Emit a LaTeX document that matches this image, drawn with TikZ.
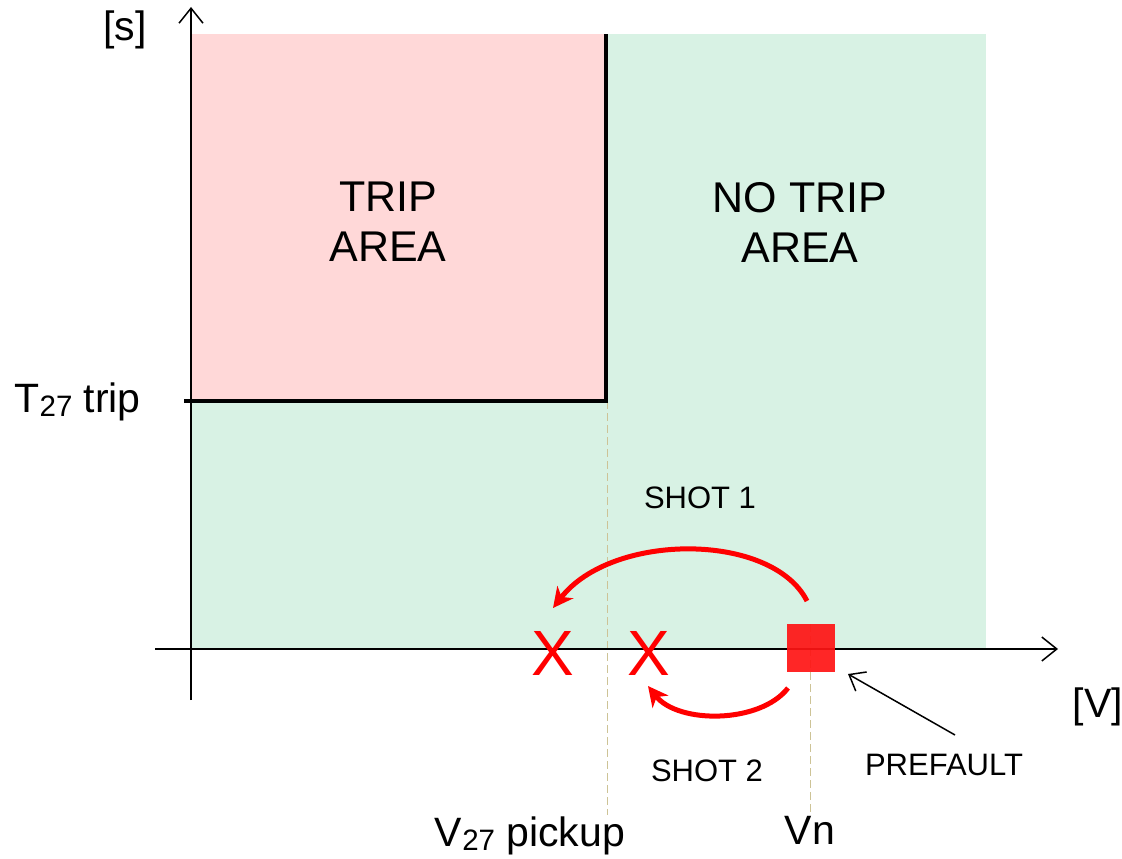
\documentclass[tikz,border=0pt]{standalone}
\usepackage{fontspec}
\setmainfont{Liberation Sans}
\usetikzlibrary{arrows.meta}

\definecolor{tripfill}{RGB}{255,216,216}
\definecolor{notripfill}{RGB}{216,242,228}
\definecolor{shotred}{RGB}{255,0,0}
\definecolor{sqred}{RGB}{255,20,20}
\definecolor{guide}{RGB}{205,195,150}

\newcommand{\lowsub}[1]{\raisebox{-0.1em}{\scalebox{0.72}{#1}}}

\tikzset{
  axis/.style={line width=1.5pt, -{Straight Barb[length=15pt,width=24pt,line width=1.5pt]}},
  limit/.style={line width=3.2pt},
  guideline/.style={guide, line width=1pt, dash pattern=on 8pt off 4pt},
  shot/.style={shotred, line width=5pt, -{Stealth[length=20pt,width=20pt,inset=6pt]}},
  pointer/.style={line width=1.5pt, -{Straight Barb[length=14pt,width=22pt,line width=1.5pt]}},
  big/.style={font=\fontsize{43}{50}\selectfont, align=center},
  axlabel/.style={font=\fontsize{41}{44}\selectfont, inner sep=0pt},
  small/.style={font=\fontsize{31}{34}\selectfont, inner sep=0pt},
  cross/.style={shotred, font=\fontsize{64}{64}\selectfont, inner sep=0pt}
}

\begin{document}
\begin{tikzpicture}[x=1pt, y=-1pt]
  \useasboundingbox (0,0) rectangle (1122,859);

  % operating regions
  \fill[notripfill] (191,34) rectangle (986,649);
  \fill[tripfill] (191,34) rectangle (606,401);

  % guide lines to the voltage axis
  \coordinate (pick top) at (607,401);
  \coordinate (pick bot) at (607,815);
  \coordinate (vn top) at (810,624);
  \coordinate (vn bot) at (810,815);
  \draw[guideline] (pick top) -- (pick bot);
  \draw[guideline] (vn top) -- (vn bot);

  % trip characteristic
  \coordinate (tick) at (184,401);
  \coordinate (corner) at (606,401);
  \coordinate (ceiling) at (606,34);
  \draw[limit] (tick) -- (corner) -- (ceiling);

  % axes
  \coordinate (x start) at (155,649);
  \coordinate (x end) at (1058,649);
  \coordinate (y start) at (191,700);
  \coordinate (y end) at (191,7);
  \draw[axis] (x start) -- (x end);
  \draw[axis] (y start) -- (y end);

  % axis labels
  \node[axlabel] (unit s) at (125,30) {[s]};
  \node[axlabel] (unit v) at (1098,707) {[V]};
  \node[axlabel, anchor=east] (ttrip) at (141,402) {T\lowsub{27} trip};
  \node[axlabel] (vpick) at (530,836) {V\lowsub{27} pickup};
  \node[axlabel] (vn) at (810,830) {Vn};

  % area labels
  \node[big] (trip) at (388,222) {TRIP\\AREA};
  \node[big] (notrip) at (800,222) {NO TRIP\\AREA};

  % prefault point and reclosing shots
  \node[fill=sqred, fill opacity=0.92, minimum size=48pt, inner sep=0pt] (pre) at (811,648) {};
  \node[cross] (x1) at (553,653) {X};
  \node[cross] (x2) at (649,653) {X};

  \coordinate (s1 start) at (807,601);
  \coordinate (s1 end) at (553,608);
  \coordinate (s2 start) at (788,688);
  \coordinate (s2 end) at (648,686);
  \draw[shot] (s1 start) .. controls (772,532) and (612,532) .. (s1 end);
  \draw[shot] (s2 start) .. controls (760,724) and (678,724) .. (s2 end);

  \node[small] (shot1) at (700,498) {SHOT 1};
  \node[small] (shot2) at (707,771) {SHOT 2};
  \node[small] (prefault) at (944,765) {PREFAULT};

  \coordinate (pf tail) at (955,735);
  \coordinate (pf tip) at (848,674);
  \draw[pointer] (pf tail) -- (pf tip);
\end{tikzpicture}
\end{document}
